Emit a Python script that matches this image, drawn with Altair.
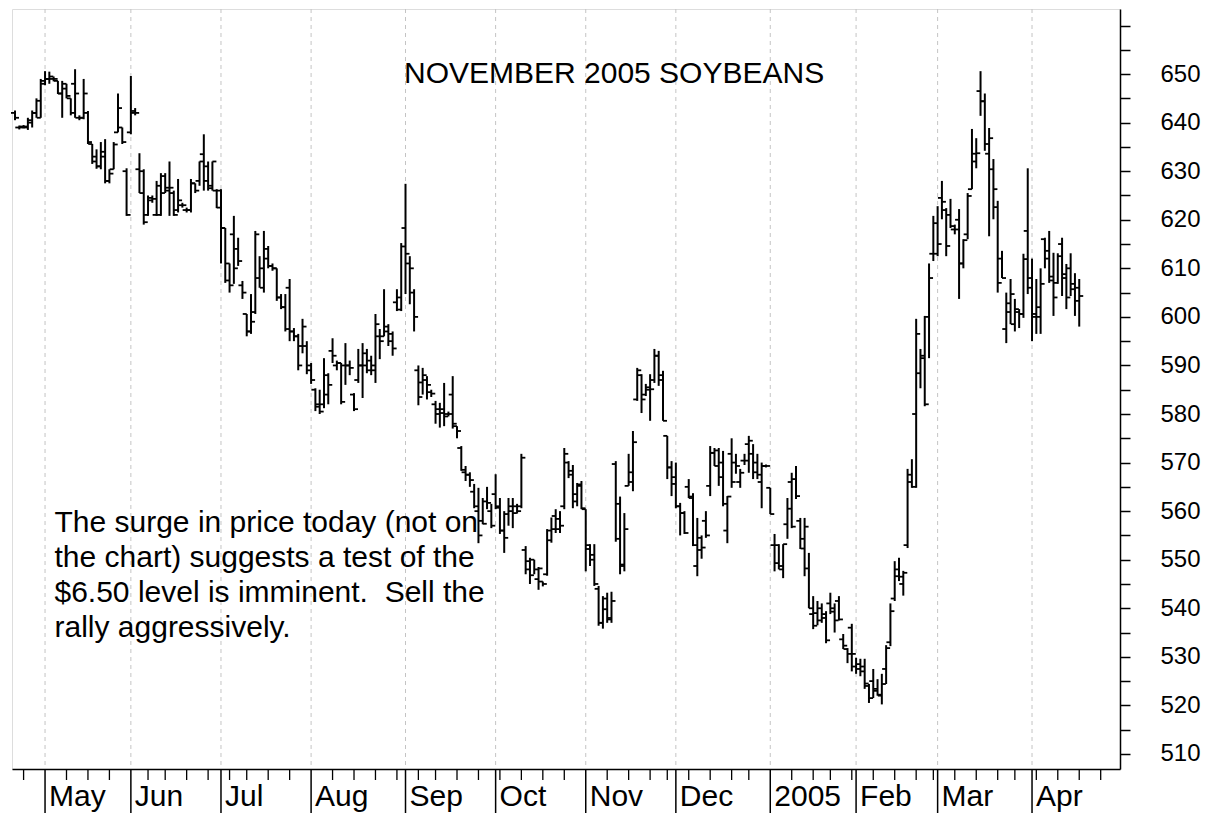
import altair as alt
import pandas as pd

FONT = "Liberation Sans"

# ---- daily OHLC, November 2005 soybeans (cents/bu), one entry per trading day from 22 Apr 2004 ----
open_ = [642, 639, 639.2, 639, 640, 642, 641,
         648, 649, 649, 648.6, 646, 648, 645, 648, 641, 641, 642, 635.6, 633, 631, 633, 628, 630.4, 638, 639, 630,
         638, 642.4, 630.4, 630, 621, 624.5, 621, 621, 629, 626.6, 625.5, 622, 623, 622, 622, 627.5, 628, 633.5, 631, 627, 626,
         626, 618.3, 611, 617, 614, 606.5, 600.6, 597, 601, 608, 606, 614, 610.5, 610, 604, 602, 606, 597, 596, 594, 594,
         590, 585, 582, 582, 584, 593, 590, 590.5, 590, 590, 584, 587, 590, 592.5, 591, 590, 596, 596, 598, 595, 603, 601.5,
         618.3, 611, 605, 589, 586.5, 587, 584.5, 582, 581, 581, 580, 584, 577.5, 573, 568, 567.5, 564, 560, 558, 562, 560,
         563.5, 561, 556, 559.4, 560, 561, 561, 552, 548, 550, 546, 545.5, 547, 554, 559, 558.4, 561, 570, 568.3, 562, 565.5,
         560.4, 553, 551, 544, 537, 542, 538, 569.7, 554.3, 549, 565.2, 566, 583, 588, 584, 585, 587, 592, 588, 575.5, 569,
         567, 561, 559.6, 565, 563, 548.7, 554.5, 558, 565.2, 572, 572.5, 570, 556, 571.8, 570, 566, 570.4, 573.8, 571.8, 570, 566, 569.3,
         564.8, 553, 553, 548, 557.3, 566, 566.6, 558, 552.3, 548.2, 538.8, 539, 540, 538.8, 541, 540, 541.5, 533.6, 531.6, 536,
         528, 528.5, 528, 524, 525, 523, 522, 527.5, 533, 542, 548, 545, 553, 566, 580, 588.4, 591.5, 600, 613,
         613, 624.5, 622, 621, 618, 620, 611, 617, 626.3, 632, 646.5, 644.4, 633.6, 630.4, 622.6, 612, 597.5, 601, 598.5, 601, 600.6, 617.7,
         608, 600.6, 600, 616, 613.6, 608.3, 607, 615, 608.8, 610, 605.7, 606]

high = [642.5, 639.4, 639.5, 641, 642.5, 645, 649,
        650.6, 650.5, 649.5, 648.6, 648.6, 648, 645, 651, 641.5, 649, 642.4, 635.6, 634.5, 636, 636.6, 630.4, 636, 646, 639, 630.6,
        649.6, 643, 633.7, 630.4, 625, 625, 628, 629.6, 629.6, 632, 626, 628.4, 623.5, 622.5, 628.4, 627.5, 632, 637.6, 632, 632, 626.3,
        626.3, 618.3, 611, 620.8, 616.3, 607.4, 600.6, 604.7, 617.7, 612.5, 617.7, 614.6, 611, 610, 604.7, 604.7, 607.8, 597.7, 596.5, 599.6, 595,
        590.5, 585.3, 585, 591.5, 588.4, 595.6, 591, 590.5, 594.6, 591, 584.3, 593.4, 594.6, 593.4, 592, 600.6, 597.5, 605.7, 598.5, 597, 605.7, 615.2,
        627.4, 612.5, 605.7, 590, 589.5, 587.8, 585, 582.7, 582.3, 586.4, 580.5, 587.8, 577.5, 573.4, 569.3, 568, 565.6, 564.8, 562.7, 565, 561.5,
        567.6, 562.7, 560, 562.7, 562.7, 561.5, 571.8, 552.8, 550.4, 550, 548.5, 545.5, 556.3, 558.7, 560.4, 560, 573, 570.3, 569.5, 565.8, 566.2,
        560.4, 553.2, 553.2, 544.6, 542.5, 543.2, 543.4, 570.3, 563, 559.6, 571.8, 576.5, 589.5, 588.2, 586.2, 588.2, 593.4, 593, 588.9, 575.5, 570.3,
        570, 561.7, 560, 566.6, 563.7, 558.6, 555, 560, 573.4, 573, 573, 572.4, 563.1, 575, 571.8, 568.7, 571.8, 575.5, 573.8, 571.8, 570, 569.6,
        564.8, 555.3, 553.2, 553.2, 562.7, 567.9, 569.3, 558.6, 558.6, 551.4, 542.5, 541.5, 541, 539.4, 543.2, 541, 542.5, 534.7, 531.8, 536.8,
        529.8, 529.6, 529.6, 524.4, 527.5, 525.4, 526.5, 532.4, 541, 549.7, 550.4, 547.7, 568.7, 570.7, 599.6, 593.4, 600.2, 611, 620.8,
        622.8, 628, 622.4, 624.3, 619, 622.2, 616, 625.5, 638.7, 636.8, 650.6, 646, 638.9, 632.5, 623.9, 613.6, 605, 607.8, 603.7, 601.6, 613, 630.6,
        612, 607.8, 610, 616.3, 617.7, 613.2, 613.1, 616.3, 610.9, 613.1, 609, 607.8]

low = [640.5, 638.6, 638.8, 638.5, 639, 641, 641,
       647.7, 648, 648.5, 645.9, 641, 645, 641.5, 641, 640.5, 640.7, 635.6, 631.5, 630.5, 630.4, 627.5, 627.5, 630.4, 638, 635.6, 620.8,
       637.6, 641.5, 625.5, 619, 620.8, 623.5, 620.8, 620.8, 625.5, 620.8, 620.8, 621.5, 622.5, 621.5, 621.5, 625.5, 627, 626, 626, 626, 622.4,
       611, 607, 605, 606.8, 610.5, 603.7, 596, 596.5, 600.6, 606, 605, 610, 609.5, 603.3, 601.6, 597, 595, 595, 589, 592.5, 588.2,
       586.2, 580.6, 580, 581.2, 582, 590.5, 589, 582, 586, 588, 580.6, 586.4, 583.3, 588.4, 588, 586.4, 591.3, 596, 594, 592, 601.2, 601.2,
       604.7, 602.6, 597, 581.8, 584, 583, 583.5, 578, 577.2, 577.5, 579.5, 577, 575, 568.3, 566.2, 565, 560.6, 553.4, 557.3, 560.4, 556.5,
       560.4, 555.3, 551.4, 557, 556.5, 559.5, 560.6, 547, 545, 547, 543.8, 544.5, 546.7, 553.5, 555.5, 555.5, 560.4, 566.8, 560.6, 561, 560.4,
       547.6, 548.7, 544.6, 536.4, 535.8, 537, 537, 553.7, 547, 547.6, 565.2, 564.1, 582.7, 580.2, 583.7, 578.6, 586.4, 585.8, 578.6, 566.6, 563.1,
       560.6, 555, 555.3, 562.7, 552.8, 546.6, 550.2, 554.5, 563.1, 569.3, 565.2, 561, 553.4, 564.8, 567.7, 564.8, 569.5, 567.9, 566.6, 566.6, 560.6, 569,
       559.4, 547.6, 548, 546.2, 554.3, 556.5, 562.5, 552.2, 546.6, 540, 535.7, 536.5, 537, 532.8, 538.8, 535, 537.5, 531.6, 528.7, 527,
       526.5, 526, 523.4, 520.5, 521.5, 522, 520.2, 524.4, 532.2, 541.5, 545.6, 542.6, 552.4, 564.8, 564.8, 585.3, 581.6, 591.5, 611.5,
       612.5, 620.1, 612.5, 618.3, 617, 603.7, 610, 616, 626.3, 630.6, 641.4, 634.2, 616.6, 620.1, 605, 608, 594.6, 598.5, 597, 597.7, 599.8, 604.7,
       595, 596.5, 596.5, 610, 607, 600.2, 606.8, 604.3, 601.6, 604.3, 600.2, 598]

close = [641, 639, 639.2, 640.5, 642, 644.5, 648.6,
         649, 649.5, 649, 646, 647, 645.5, 642, 646, 641, 646, 636, 632, 631, 634, 628, 629.5, 635.5, 643, 636, 621,
         642, 642, 625.5, 619.5, 624, 624.3, 627, 625.5, 626, 626.6, 621, 624, 623, 622, 627.5, 626, 632, 628, 626.5, 632, 622.5,
         618.3, 607.5, 606.5, 610, 611.5, 605, 597, 599, 617, 610, 612, 610.5, 610, 604, 602, 597.5, 597, 596, 590, 598, 589,
         587, 581.5, 580.5, 588, 586, 592, 590.5, 582.5, 590, 589.5, 581, 590, 590, 589, 589, 598.5, 595, 597, 596.5, 593.5, 604, 614.5,
         613, 610, 600, 583.5, 588, 586, 584.2, 580, 580.2, 579.5, 580, 578, 576.5, 568.5, 567.5, 566.4, 561, 555, 557.4, 561.7, 557,
         560.7, 556, 554.5, 561, 559.6, 560, 571, 549.7, 546.8, 548, 548.2, 545, 556, 556.3, 556.3, 557, 571.8, 567.5, 563.5, 565.2, 560.6,
         552.2, 550, 545, 537, 539.8, 537.7, 541.5, 561.5, 548.7, 556.3, 568, 574.2, 589, 583, 585.5, 585.1, 592, 587, 578.6, 569, 565.6,
         561, 559.6, 555.5, 562.7, 553, 552, 552.5, 555, 572, 569.3, 567, 561.5, 563, 566, 569.3, 567.9, 570.4, 574.5, 568, 567.5, 569.3, 569.3,
         559.4, 549.3, 548.7, 553.2, 560.5, 556.8, 563.1, 554.3, 556.8, 540, 536.4, 537.5, 538, 533.4, 539.3, 537.5, 537.7, 532.3, 530.6, 530.6,
         527.5, 527, 524.5, 521.5, 523.4, 522.2, 524.4, 531.8, 539.4, 546.6, 546.5, 547.3, 567.5, 565, 596.5, 592, 582, 608, 619.3,
         615, 623.7, 614.6, 618.7, 618, 611, 615.8, 624.9, 633.6, 633.7, 644.4, 635.6, 636.8, 626.3, 607, 608, 602.8, 604.7, 601.6, 600.6, 611.9, 606,
         600, 602, 606.8, 612, 607.5, 604, 612.5, 608, 604, 606.8, 603.3, 604.3]

# exchange holidays in the period (no bar drawn)
holidays = ["2004-05-31", "2004-06-11", "2004-07-05", "2004-09-06", "2004-11-25",
            "2004-12-24", "2005-01-17", "2005-02-21", "2005-03-25"]
month_labels = ["May", "Jun", "Jul", "Aug", "Sep", "Oct", "Nov", "Dec", "2005", "Feb", "Mar", "Apr"]
price_ticks = list(range(510, 665, 5))
title_text = "NOVEMBER 2005 SOYBEANS"
note_text = ["The surge in price today (not on", "the chart) suggests a test of the",
             "$6.50 level is imminent.\u00a0 Sell the", "rally aggressively."]

n = len(high)
dates = pd.bdate_range("2004-04-22", periods=n + 6, freq="C", holidays=holidays)

bars = pd.DataFrame({"i": range(n), "open": open_, "high": high, "low": low, "close": close})

month_idx = [i for i in range(1, n) if dates[i].month != dates[i - 1].month]
months = pd.DataFrame({"i": month_idx, "label": month_labels[:len(month_idx)]})
week_idx = [i for i in range(1, len(dates))
            if dates[i].isocalendar()[1] != dates[i - 1].isocalendar()[1]
            and dates[i].month == dates[i - 1].month]
weeks = pd.DataFrame({"i": week_idx})

W, H = 1108, 760
xscale = alt.Scale(domain=[-0.7, 257.5], nice=False, zero=False)
yscale = alt.Scale(domain=[506.9, 663.4], nice=False, zero=False)
xaxis = alt.Axis(title=None, labels=False, ticks=False, grid=False, domain=True,
                 domainColor="black", domainWidth=1.5)
yaxis = alt.Axis(orient="right", title=None, values=price_ticks,
                 labelExpr="(datum.value % 10 == 0 && datum.value <= 650) ? datum.label : ''",
                 tickSize=10, tickWidth=1.5, tickColor="black", domainColor="black", domainWidth=1.5,
                 labelFont=FONT, labelFontSize=24, labelColor="black", labelPadding=30,
                 grid=False, labelOverlap=False, labelFlush=False, labelBound=False)


def X(field="i"):
    return alt.X(f"{field}:Q", scale=xscale, axis=xaxis)


def Y(field):
    return alt.Y(f"{field}:Q", scale=yscale, axis=yaxis)


grid = alt.Chart(months).mark_rule(color="#c4c4c4", strokeDash=[4, 4], strokeWidth=1).encode(x=X())

hl = alt.Chart(bars).mark_rule(color="black", strokeWidth=2).encode(
    x=X(), y=Y("low"), y2=alt.Y2("high:Q"))
op = alt.Chart(bars).mark_rule(color="black", strokeWidth=1.8, xOffset=-4).encode(
    x=X(), x2=alt.X2("i:Q"), y=Y("open"))
cl = alt.Chart(bars).mark_rule(color="black", strokeWidth=1.8, x2Offset=4).encode(
    x=X(), x2=alt.X2("i:Q"), y=Y("close"))

wk = alt.Chart(weeks).mark_rule(color="black", strokeWidth=1.3).encode(
    x=X(), y=alt.value(H), y2=alt.value(H + 11))
mt = alt.Chart(months).mark_rule(color="black", strokeWidth=1.5).encode(
    x=X(), y=alt.value(H), y2=alt.value(H + 44))
ml = alt.Chart(months).mark_text(align="left", baseline="alphabetic", dx=4, font=FONT,
                                 fontSize=30, color="black").encode(
    x=X(), y=alt.value(H + 37), text="label:N")

title = alt.Chart(pd.DataFrame({"i": [139.6], "p": [650.0], "t": [title_text]})).mark_text(
    align="center", baseline="middle", font=FONT, fontSize=30, color="black").encode(
    x=X(), y=Y("p"), text="t:N")

note = alt.Chart(pd.DataFrame({"i": [9.2], "p": [560.6], "t": ["\n".join(note_text)]})).mark_text(
    align="left", baseline="top", font=FONT, fontSize=30, color="black",
    lineBreak="\n", lineHeight=35).encode(
    x=X(), y=Y("p"), text="t:N")

chart = alt.layer(grid, hl, op, cl, wk, mt, ml, title, note).properties(
    width=W, height=H, padding={"left": 2, "top": 0, "right": 5, "bottom": 5}
).configure_view(strokeWidth=0).configure(background="white")

chart.save("out.html", embed_options={"renderer": "svg", "actions": False})
